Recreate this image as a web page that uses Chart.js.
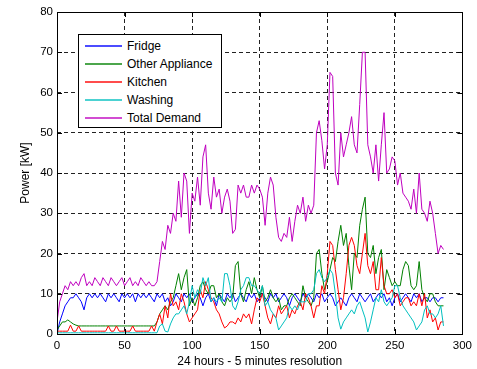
<!DOCTYPE html>
<html lang="en">
<head>
<meta charset="UTF-8">
<title>Household power demand</title>
<script src="https://cdn.jsdelivr.net/npm/chart.js"></script>
<style>
    html, body {
        margin: 0;
        padding: 0;
        background: #ffffff;
    }
    #wrap {
        position: relative;
        width: 477px;
        height: 369px;
    }
    #legend {
        position: absolute;
        left: 78px;
        top: 34px;
        width: 142px;
        height: 92px;
        border: 1px solid #000;
        background: #fff;
        font-family: "Liberation Sans", Arial, Helvetica, sans-serif;
        font-size: 12px;
        color: #000;
    }
    #legend .row {
        position: absolute;
        left: 0;
        height: 14px;
        line-height: 14px;
        white-space: nowrap;
    }
    #legend .swatch {
        position: absolute;
        left: 6px;
        top: 6px;
        width: 37px;
        height: 2px;
        opacity: 0.7;
    }
    #legend .name {
        position: absolute;
        left: 48px;
        top: 0;
    }
</style>
</head>
<body>
<div id="wrap">
    <canvas id="chart" width="477" height="369"></canvas>
    <div id="legend"></div>
</div>
<script>
// sample index (5 minute steps), every second sample
const samples = [
    0, 2, 4, 6, 8, 10, 12, 14, 16, 18, 20, 22, 24, 26, 28, 30, 32, 34, 36, 38,
    40, 42, 44, 46, 48, 50, 52, 54, 56, 58, 60, 62, 64, 66, 68, 70, 72, 74, 76, 78,
    80, 82, 84, 86, 88, 90, 92, 94, 96, 98, 100, 102, 104, 106, 108, 110, 112, 114, 116, 118,
    120, 122, 124, 126, 128, 130, 132, 134, 136, 138, 140, 142, 144, 146, 148, 150, 152, 154, 156, 158,
    160, 162, 164, 166, 168, 170, 172, 174, 176, 178, 180, 182, 184, 186, 188, 190, 192, 194, 196, 198,
    200, 202, 204, 206, 208, 210, 212, 214, 216, 218, 220, 222, 224, 226, 228, 230, 232, 234, 236, 238,
    240, 242, 244, 246, 248, 250, 252, 254, 256, 258, 260, 262, 264, 266, 268, 270, 272, 274, 276, 278,
    280, 282, 284, 286
];

const fridge = [
    0, 3, 5, 7, 8, 9, 9, 10, 9, 8,
    6, 9, 10, 9, 10, 9, 10, 9, 8, 10,
    9, 10, 9, 8, 10, 9, 10, 9, 10, 8,
    10, 9, 10, 9, 10, 9, 8, 10, 9, 10,
    8, 9, 7, 8, 10, 9, 8, 10, 9, 10,
    8, 9, 10, 9, 7, 9, 10, 8, 9, 7,
    10, 9, 8, 10, 9, 10, 8, 9, 10, 9,
    8, 10, 9, 10, 8, 9, 10, 9, 8, 10,
    9, 10, 8, 9, 10, 9, 7, 9, 10, 9,
    8, 10, 9, 10, 9, 8, 10, 9, 10, 8,
    9, 10, 9, 7, 8, 9, 8, 7, 9, 10,
    9, 8, 10, 9, 8, 9, 10, 8, 9, 10,
    9, 10, 8, 9, 7, 9, 10, 8, 9, 10,
    9, 8, 10, 9, 10, 8, 9, 9, 8, 9,
    9, 8, 9, 9
];

const otherAppliance = [
    1, 2, 3, 3, 3.5, 3, 2.5, 2.2, 2, 2,
    2, 2, 2, 2, 2, 2, 2, 2, 2, 2,
    2, 2, 2, 2, 2, 2, 2, 2, 2, 2,
    2, 2, 2, 2, 2, 2, 2, 3, 5, 6,
    7, 6, 8, 9, 12, 15, 11, 14, 16, 7,
    9, 7, 9, 12, 13, 11, 10, 12, 12, 9,
    10, 8, 7, 9, 8, 9, 17, 18, 10, 8,
    11, 13, 10, 14, 11, 9, 12, 8, 9, 11,
    9, 8, 9, 6, 7, 7, 9, 10, 9, 8,
    7, 12, 9, 8, 7, 9, 20, 21, 15, 11,
    13, 16, 19, 18, 23, 27, 22, 25, 17, 11,
    20, 19, 27, 31, 34, 20, 19, 22, 15, 19,
    21, 11, 16, 14, 12, 13, 12, 12, 16, 18,
    17, 12, 11, 12, 18, 11, 9, 8, 10, 10,
    8, 7, 7, 7
];

const kitchen = [
    0.7, 0.7, 0.7, 0.7, 0.7, 2.2, 0.7, 0.7, 2, 0.7,
    0.7, 0.7, 0.7, 0.7, 0.7, 0.7, 0.7, 0.7, 0.7, 2,
    0.7, 0.7, 2, 0.7, 0.7, 0.7, 0.7, 0.7, 2, 0.7,
    0.7, 0.7, 0.7, 0.7, 0.7, 2, 0.7, 3, 5, 2.5,
    7, 4, 10, 7, 8, 6, 10, 8, 5, 3,
    4, 5, 6, 11, 9, 13, 11, 9, 8, 6,
    5, 3, 1.5, 2, 3, 3, 2.5, 4, 3, 5,
    4, 5, 2.5, 6, 9, 8, 10, 7, 4, 2.5,
    5, 4, 7, 5, 6, 7, 4, 6, 5, 7,
    8, 6, 10, 9, 7, 4, 7, 7, 12, 10,
    15, 23, 22, 16, 11, 6, 9, 15, 22, 24,
    22, 17, 15, 20, 25, 17, 15, 18, 11, 11,
    19, 12, 10, 10, 11, 9, 10, 7, 8, 9,
    9, 7, 8, 7, 10, 7, 10, 4, 6, 3,
    4, 1, 3, 3
];

const washing = [
    0.3, 0.3, 0.3, 0.3, 0.3, 0.3, 0.3, 0.3, 0.3, 0.3,
    0.3, 0.3, 0.3, 0.3, 0.3, 0.3, 0.3, 0.3, 0.3, 0.3,
    0.3, 0.3, 0.3, 0.3, 0.3, 0.3, 0.3, 0.3, 0.3, 0.3,
    0.3, 0.3, 0.3, 0.3, 0.3, 0.3, 0.3, 0.3, 2, 2.5,
    0.7, 0.5, 2.5, 4, 5, 5, 6, 7, 5, 8,
    12, 9, 11, 10, 14, 12, 14, 8, 9, 8,
    9, 8, 15, 15, 12, 7, 6, 8, 11, 12,
    14, 14, 12, 12, 11, 10, 12, 7, 8, 6,
    5, 4, 1, 2, 3, 4, 7, 6, 7, 6,
    8, 8, 8, 10, 10, 11, 15, 16, 14, 13,
    14, 16, 15, 10, 4, 1.2, 3, 4, 5, 6,
    5, 7, 8, 6, 4, 0.5, 3, 6, 9, 8,
    11, 8, 7, 8, 9, 12, 12, 9, 7, 6,
    5, 4, 3, 1, 2, 3, 6, 7, 5, 5,
    4, 5, 7, 2
];

const totalDemand = [
    3, 8, 10, 12, 11, 13, 12, 13, 12, 14,
    15, 12, 13, 12, 14, 13, 12, 14, 13, 12,
    14, 13, 12, 13, 14, 12, 13, 14, 12, 13,
    12, 14, 13, 12, 13, 12, 12, 13, 18, 23,
    21, 27, 25, 30, 28, 38, 29, 40, 38, 25,
    35, 33, 39, 32, 44, 47, 35, 31, 39, 34,
    36, 30, 34, 36, 33, 25, 26, 37, 35, 37,
    34, 34, 37, 35, 37, 36, 34, 27, 35, 39,
    37, 29, 24, 23, 25, 24, 29, 23, 28, 32,
    30, 34, 28, 32, 30, 32, 50, 53, 48, 41,
    47, 65, 64, 40, 37, 50, 44, 47, 50, 54,
    47, 45, 57, 70, 70, 47, 44, 40, 47, 38,
    47, 55, 40, 41, 44, 43, 37, 40, 35, 34,
    33, 31, 36, 30, 40, 31, 30, 28, 33, 30,
    25, 20, 22, 21
];

const seriesNames = ['Fridge', 'Other Appliance', 'Kitchen', 'Washing', 'Total Demand'];
const seriesValues = [fridge, otherAppliance, kitchen, washing, totalDemand];
const seriesColors = ['#0000ff', '#008000', '#ff0000', '#00bfbf', '#bf00bf'];

const xTicks = [0, 50, 100, 150, 200, 250, 300];
const yTicks = [0, 10, 20, 30, 40, 50, 60, 70, 80];

const FONT = '"Liberation Sans", Arial, Helvetica, sans-serif';

// legend box (html, sits over the plot)
const legendEl = document.getElementById('legend');
seriesNames.forEach((name, i) => {
    const row = document.createElement('div');
    row.className = 'row';
    row.style.top = (4 + i * 18) + 'px';
    row.innerHTML = '<span class="swatch" style="background:' + seriesColors[i] + '"></span>' +
        '<span class="name">' + name + '</span>';
    legendEl.appendChild(row);
});

// matlab style box and inward ticks
const boxPlugin = {
    id: 'boxPlugin',
    afterDraw(chart) {
        const ctx = chart.ctx;
        const a = chart.chartArea;
        const xs = chart.scales.x;
        const ys = chart.scales.y;
        ctx.save();
        ctx.strokeStyle = '#000';
        ctx.lineWidth = 1;
        ctx.setLineDash([]);
        ctx.strokeRect(Math.round(a.left) + 0.5, Math.round(a.top) + 0.5,
            Math.round(a.right - a.left), Math.round(a.bottom - a.top));

        ctx.beginPath();
        xTicks.forEach(t => {
            const px = Math.round(xs.getPixelForValue(t)) + 0.5;
            ctx.moveTo(px, a.bottom); ctx.lineTo(px, a.bottom - 5);
            ctx.moveTo(px, a.top); ctx.lineTo(px, a.top + 5);
        });
        yTicks.forEach(t => {
            const py = Math.round(ys.getPixelForValue(t)) + 0.5;
            ctx.moveTo(a.left, py); ctx.lineTo(a.left + 5, py);
            ctx.moveTo(a.right, py); ctx.lineTo(a.right - 5, py);
        });
        ctx.stroke();
        ctx.restore();
    }
};

const datasets = seriesNames.map((name, i) => ({
    label: name,
    data: samples.map((s, j) => ({ x: s, y: seriesValues[i][j] })),
    borderColor: seriesColors[i],
    borderWidth: 1,
    pointRadius: 0,
    fill: false,
    tension: 0,
    order: seriesNames.length - i
}));

new Chart(document.getElementById('chart'), {
    type: 'line',
    data: { datasets: datasets },
    options: {
        responsive: false,
        animation: false,
        layout: { padding: { top: 12, right: 9, left: 0, bottom: 0 } },
        plugins: {
            legend: { display: false },
            tooltip: { enabled: false }
        },
        scales: {
            x: {
                type: 'linear',
                min: 0,
                max: 300,
                afterFit: s => { s.height = 35; },
                afterBuildTicks: s => { s.ticks = xTicks.map(v => ({ value: v })); },
                ticks: {
                    color: '#000',
                    padding: 5,
                    maxRotation: 0,
                    font: { family: FONT, size: 11.5 }
                },
                grid: { color: '#222', lineWidth: 1, drawTicks: false },
                border: { display: false, dash: [4, 3] },
                title: {
                    display: true,
                    text: '24 hours - 5 minutes resolution',
                    color: '#000',
                    font: { family: FONT, size: 12 },
                    padding: { top: 0, bottom: 0 }
                }
            },
            y: {
                min: 0,
                max: 80,
                afterFit: s => { s.width = 57; },
                afterBuildTicks: s => { s.ticks = yTicks.map(v => ({ value: v })); },
                ticks: {
                    color: '#000',
                    padding: 4,
                    font: { family: FONT, size: 11.5 }
                },
                grid: { color: '#222', lineWidth: 1, drawTicks: false },
                border: { display: false, dash: [4, 3] },
                title: {
                    display: true,
                    text: 'Power [kW]',
                    color: '#000',
                    font: { family: FONT, size: 12 },
                    padding: { top: 18, bottom: 0 }
                }
            }
        }
    },
    plugins: [boxPlugin]
});
</script>
</body>
</html>
